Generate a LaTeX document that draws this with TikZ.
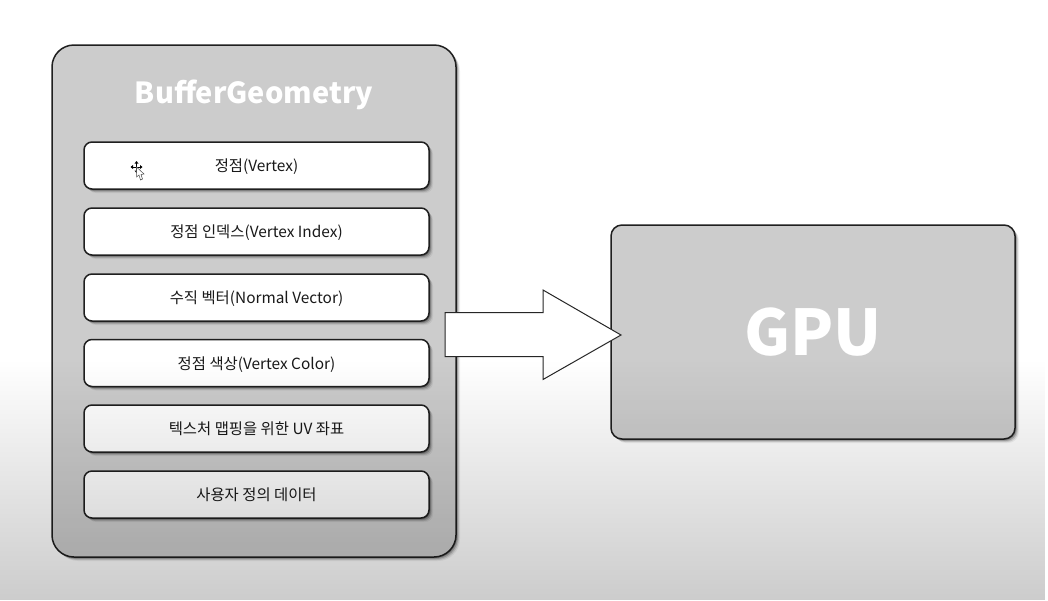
\documentclass[tikz,border=0pt]{standalone}
\usepackage{fontspec}
\setmainfont{Noto Sans CJK KR}
\usetikzlibrary{shadows,fadings,calc}
\tikzfading[name=lowerfade, top color=transparent!100, bottom color=transparent!80]
\tikzset{
  softshadow/.style={
    general shadow={shadow xshift=1pt,shadow yshift=-1pt,opacity=.25,fill=black},
    general shadow={shadow xshift=2pt,shadow yshift=-2pt,opacity=.20,fill=black},
    general shadow={shadow xshift=3pt,shadow yshift=-3pt,opacity=.12,fill=black},
    general shadow={shadow xshift=4pt,shadow yshift=-4pt,opacity=.06,fill=black}},
  panel/.style={draw=black!88,line width=1.5pt,fill=black!20,softshadow,inner sep=0pt,outer sep=0pt,anchor=north west},
  outerbox/.style={panel,rounded corners=22pt,minimum width=404pt,minimum height=512pt},
  gpubox/.style={panel,rounded corners=11pt,minimum width=404pt,minimum height=214pt,text=white,font=\fontsize{63pt}{70pt}\selectfont\bfseries},
  itembox/.style={panel,fill=white,rounded corners=8pt,minimum width=345pt,minimum height=47pt,text=black!90,text height=16pt,text depth=4pt,font=\fontsize{15.4pt}{18pt}\selectfont},
  titletext/.style={text=white,font=\fontsize{29pt}{34pt}\selectfont\bfseries,inner sep=0pt},
  blockarrow/.style={draw=black!85,line width=1pt,fill=white,line join=miter},
}
\begin{document}
\begin{tikzpicture}[x=1pt,y=-1pt]
\useasboundingbox (0,0) rectangle (1048,600);
\fill[white] (0,0) rectangle (1048,600);
\node[outerbox] (buffer) at (52,45) {};
\node[titletext] (title) at (254,94.5) {BufferGeometry};
\node[itembox] (i1) at (84,142) {정점(Vertex)};
\node[itembox] (i2) at (84,208) {정점 인덱스(Vertex Index)};
\node[itembox] (i3) at (84,274) {수직 벡터(Normal Vector)};
\node[itembox] (i4) at (84,339.5) {정점 색상(Vertex Color)};
\node[itembox] (i5) at (84,405) {텍스처 맵핑을 위한 UV 좌표};
\node[itembox] (i6) at (84,471) {사용자 정의 데이터};
\node[gpubox] (gpu) at (611,225) {GPU};
\coordinate (tip) at (621,335);
\draw[blockarrow] (445,312.5) -- (543,312.5) -- (543,290) -- (tip) -- (543,379.5) -- (543,356.5) -- (445,356.5) -- cycle;
% cursor
\begin{scope}[shift={(136.5,167)}]
\fill[black] (-6,0) -- (-3.5,-2) -- (-3.5,2) -- cycle (6,0) -- (3.5,-2) -- (3.5,2) -- cycle
  (0,-6) -- (-2,-3.5) -- (2,-3.5) -- cycle (0,6) -- (-2,3.5) -- (2,3.5) -- cycle;
\draw[black,line width=.8pt] (-4,0) -- (4,0) (0,-4) -- (0,4);
\draw[black!70,fill=white,line width=.5pt] (0,0) -- (0,10) -- (2.5,8) -- (4,13) -- (6,12) -- (4.5,7.5) -- (7.5,7) -- cycle;
\end{scope}
\fill[black,path fading=lowerfade] (0,360) rectangle (1048,600);
\end{tikzpicture}
\end{document}
